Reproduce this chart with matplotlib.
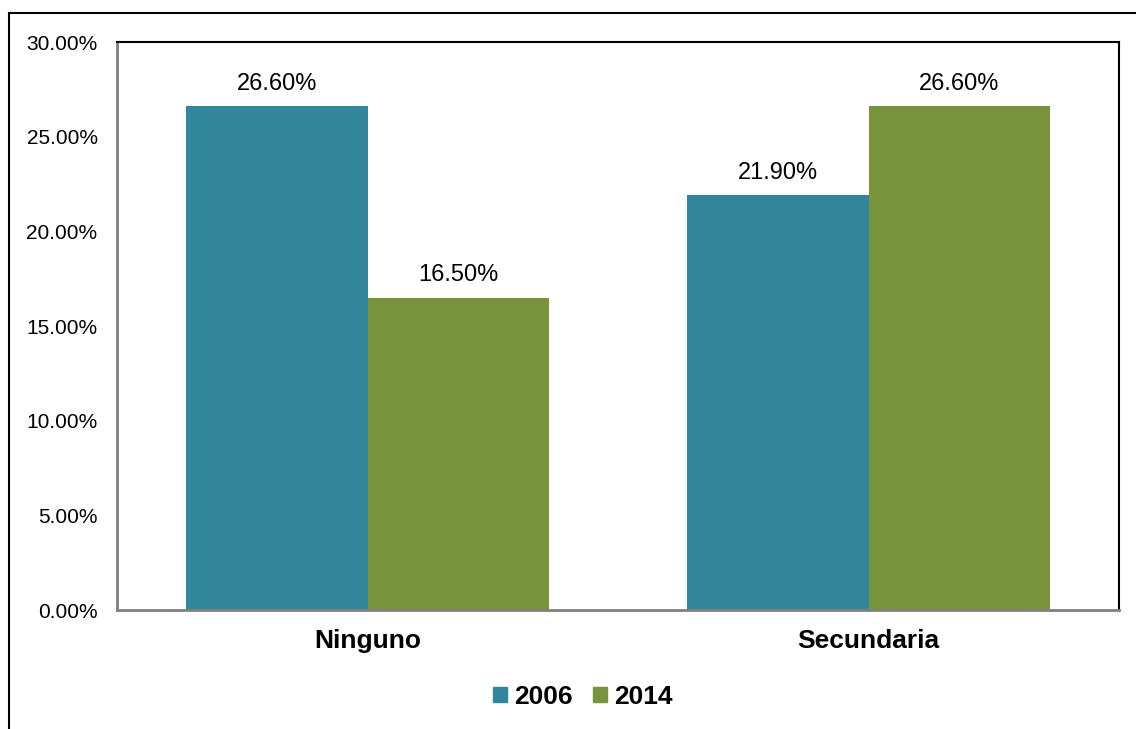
import matplotlib
matplotlib.use("Agg")
import matplotlib.pyplot as plt
from matplotlib.patches import Rectangle, Patch
import numpy as np

plt.rcParams['font.family'] = ['Liberation Sans', 'DejaVu Sans']

# Data
categories = ["Ninguno", "Secundaria"]
years = ["2006", "2014"]
values_2006 = [26.6, 21.9]
values_2014 = [16.5, 26.6]
colors = ["#31869B", "#77933C"]

fig = plt.figure(figsize=(11.36, 7.29), dpi=100)
ax = fig.add_axes([117 / 1136, 1 - 610 / 729, (1119 - 117) / 1136, (610 - 42) / 729])

x = np.arange(len(categories))
w = 0.363
b1 = ax.bar(x - w / 2, values_2006, w, color=colors[0], label=years[0])
b2 = ax.bar(x + w / 2, values_2014, w, color=colors[1], label=years[1])

for bars, vals in [(b1, values_2006), (b2, values_2014)]:
    for rect, v in zip(bars, vals):
        ax.annotate(f"{v:.2f}%", (rect.get_x() + rect.get_width() / 2, v),
                    xytext=(0, 8), textcoords="offset points",
                    ha="center", va="bottom", fontsize=17)

ax.set_xlim(-0.5, 1.5)
ax.set_ylim(0, 30)
ax.set_yticks(np.arange(0, 30.1, 5))
ax.set_yticklabels([f"{t:.2f}%" for t in np.arange(0, 30.1, 5)], fontsize=15)
ax.set_xticks(x)
ax.set_xticklabels(categories, fontsize=19, fontweight="bold")
ax.tick_params(axis="both", length=0)
ax.tick_params(axis="y", pad=14)
ax.tick_params(axis="x", pad=14)

for s in ["left", "bottom"]:
    ax.spines[s].set_color("#808080")
    ax.spines[s].set_linewidth(2)
for s in ["top", "right"]:
    ax.spines[s].set_color("black")
    ax.spines[s].set_linewidth(1.5)

handles = [Patch(color=colors[0], label=years[0]), Patch(color=colors[1], label=years[1])]
fig.legend(handles=handles, loc="center", bbox_to_anchor=(583 / 1136, 1 - 697 / 729),
           ncol=2, frameon=False, prop={"size": 19, "weight": "bold"},
           handlelength=0.53, handleheight=0.53, handletextpad=0.27, columnspacing=0.76)

# outer chart frame
fig.patches.append(Rectangle((9 / 1136, -0.1), 1.2, 1 - 13 / 729 + 0.1,
                             transform=fig.transFigure, fill=False,
                             edgecolor="black", linewidth=1.5))

fig.savefig("out.png", dpi=100)
